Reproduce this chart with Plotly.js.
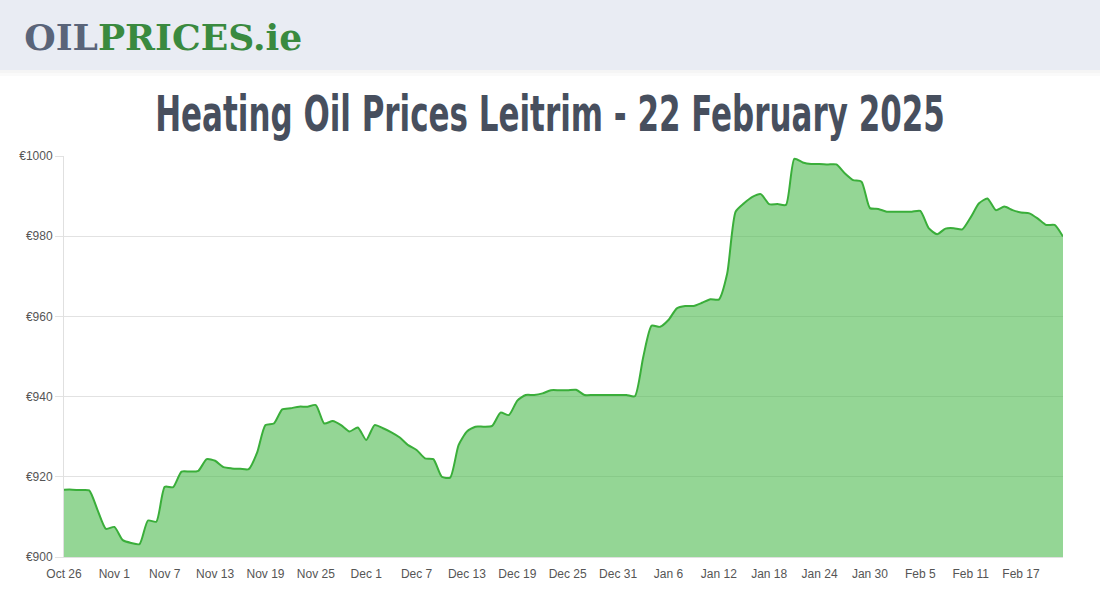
<!DOCTYPE html>
<html>
<head>
<meta charset="utf-8">
<script src="https://cdn.plot.ly/plotly-3.0.1.min.js"></script>
<style>html,body{margin:0;padding:0;background:#fff;}#chart{width:1100px;height:600px;}</style>
</head>
<body>
<div id="chart"></div>
<script>
const dates = [
"2024-10-26","2024-10-27","2024-10-28","2024-10-29","2024-10-30","2024-10-31",
"2024-11-01","2024-11-02","2024-11-03","2024-11-04","2024-11-05","2024-11-06","2024-11-07","2024-11-08","2024-11-09","2024-11-10",
"2024-11-11","2024-11-12","2024-11-13","2024-11-14","2024-11-15","2024-11-16","2024-11-17","2024-11-18","2024-11-19","2024-11-20",
"2024-11-21","2024-11-22","2024-11-23","2024-11-24","2024-11-25","2024-11-26","2024-11-27","2024-11-28","2024-11-29","2024-11-30",
"2024-12-01","2024-12-02","2024-12-03","2024-12-04","2024-12-05","2024-12-06","2024-12-07","2024-12-08","2024-12-09","2024-12-10",
"2024-12-11","2024-12-12","2024-12-13","2024-12-14","2024-12-15","2024-12-16","2024-12-17","2024-12-18","2024-12-19","2024-12-20",
"2024-12-21","2024-12-22","2024-12-23","2024-12-24","2024-12-25","2024-12-26","2024-12-27","2024-12-28","2024-12-29","2024-12-30","2024-12-31",
"2025-01-01","2025-01-02","2025-01-03","2025-01-04","2025-01-05","2025-01-06","2025-01-07","2025-01-08","2025-01-09","2025-01-10",
"2025-01-11","2025-01-12","2025-01-13","2025-01-14","2025-01-15","2025-01-16","2025-01-17","2025-01-18","2025-01-19","2025-01-20",
"2025-01-21","2025-01-22","2025-01-23","2025-01-24","2025-01-25","2025-01-26","2025-01-27","2025-01-28","2025-01-29","2025-01-30","2025-01-31",
"2025-02-01","2025-02-02","2025-02-03","2025-02-04","2025-02-05","2025-02-06","2025-02-07","2025-02-08","2025-02-09","2025-02-10",
"2025-02-11","2025-02-12","2025-02-13","2025-02-14","2025-02-15","2025-02-16","2025-02-17","2025-02-18","2025-02-19","2025-02-20",
"2025-02-21","2025-02-22"
];
const prices = [
916.8,916.8,916.7,916.6,911.7,907.0,907.5,904.2,903.5,903.2,
909.1,908.8,917.5,917.4,921.3,921.3,921.5,924.4,924.0,922.4,
922.1,922.0,921.9,926.0,932.9,933.3,936.8,937.1,937.5,937.5,
937.9,933.3,933.9,932.9,931.3,932.3,929.2,932.9,932.1,931.1,
929.8,927.9,926.7,924.6,924.4,920.0,919.8,927.9,931.3,932.5,
932.5,932.7,936.0,935.4,939.0,940.4,940.4,940.8,941.6,941.6,
941.6,941.7,940.4,940.4,940.4,940.4,940.4,940.4,940.1,949.9,
957.7,957.4,959.1,962.0,962.6,962.6,963.4,964.3,964.2,970.7,
986.1,988.2,989.8,990.5,988.0,988.0,987.8,999.3,998.4,998.0,
998.0,997.9,997.9,995.7,994.0,993.6,987.0,986.8,986.1,986.1,
986.1,986.1,986.3,982.0,980.5,981.9,982.0,981.7,984.7,988.2,
989.4,986.5,987.4,986.5,985.9,985.7,984.4,982.8,982.8,979.9
];
const yTicks = [900, 920, 940, 960, 980, 1000];
const yTickLabels = ["€900", "€920", "€940", "€960", "€980", "€1000"];
const titleText = "Heating Oil Prices Leitrim - 22 February 2025";

const trace = {
  x: dates, y: prices, type: "scatter", mode: "lines",
  line: {color: "#3aae3a", width: 2, shape: "spline", smoothing: 0.6},
  fill: "tozeroy", fillcolor: "rgba(70,185,72,0.58)",
  hoverinfo: "x+y"
};

const PH = 401, PW = 999;
const layout = {
  width: 1100, height: 600,
  margin: {l: 64, r: 37, t: 156, b: 43},
  paper_bgcolor: "#fff", plot_bgcolor: "#fff",
  showlegend: false,
  title: {text: titleText, x: 0.5, xref: "paper", y: 0.81, yref: "container", yanchor: "middle",
          font: {family: "DejaVu Sans Condensed, DejaVu Sans, sans-serif", size: 50, color: "#474f5e", weight: 700}},
  xaxis: {
    type: "date", range: ["2024-10-26", "2025-02-22"],
    tick0: "2024-10-26", dtick: 6 * 86400000, tickformat: "%b %-d",
    showgrid: false, zeroline: false,
    showline: true, linecolor: "#e0e0e0", linewidth: 1,
    ticks: "outside", ticklen: 6, tickcolor: "rgba(0,0,0,0)",
    tickfont: {family: "Liberation Sans, Arial, sans-serif", size: 12, color: "#555"}
  },
  yaxis: {
    range: [900, 1000], tickvals: yTicks, ticktext: yTickLabels,
    showgrid: true, gridcolor: "#e2e2e2", gridwidth: 1, zeroline: false,
    showline: true, linecolor: "#e0e0e0", linewidth: 1,
    ticks: "outside", ticklen: 8, tickcolor: "#e2e2e2",
    tickfont: {family: "Liberation Sans, Arial, sans-serif", size: 12, color: "#555"}
  },
  shapes: [
    {type: "rect", xref: "paper", yref: "paper", x0: -0.07, x1: 1.04, y0: (557-70)/PH, y1: 557/PH, line: {width: 0}, fillcolor: "#e9ecf3", layer: "below"},
    {type: "rect", xref: "paper", yref: "paper", x0: -0.07, x1: 1.04, y0: (557-73)/PH, y1: (557-70)/PH, line: {width: 0}, fillcolor: "rgba(0,0,0,0.04)", layer: "below"},
    {type: "rect", xref: "paper", yref: "paper", x0: -0.07, x1: 1.04, y0: (557-76)/PH, y1: (557-73)/PH, line: {width: 0}, fillcolor: "rgba(0,0,0,0.02)", layer: "below"}
  ],
  annotations: [
    {xref: "paper", yref: "paper", x: (25-64)/PW, y: (557-38)/PH, xanchor: "left", yanchor: "middle", showarrow: false,
     text: "<b><span style='color:#5a6479'>OIL</span><span style='color:#3a8a3f'>PRICES.ie</span></b>",
     font: {family: "DejaVu Serif, serif", size: 35, color: "#3a8a3f", weight: 900}}
  ]
};

function squeeze(el, left, width) {
  const r = el.getBoundingClientRect();
  const sx = width / r.width;
  // map current [r.left, r.right] onto [left, left+width]
  const tx = left - r.left * sx;
  el.setAttribute("transform", "translate(" + tx + ",0) scale(" + sx + ",1)");
}

Plotly.newPlot("chart", [trace], layout, {displayModeBar: false, staticPlot: true}).then(function () {
  const t = document.querySelector(".gtitle");
  if (t) squeeze(t, 155, 790);
  const a = document.querySelector(".annotation-text");
  if (a) squeeze(a, 25, 278);
});
</script>
</body>
</html>
